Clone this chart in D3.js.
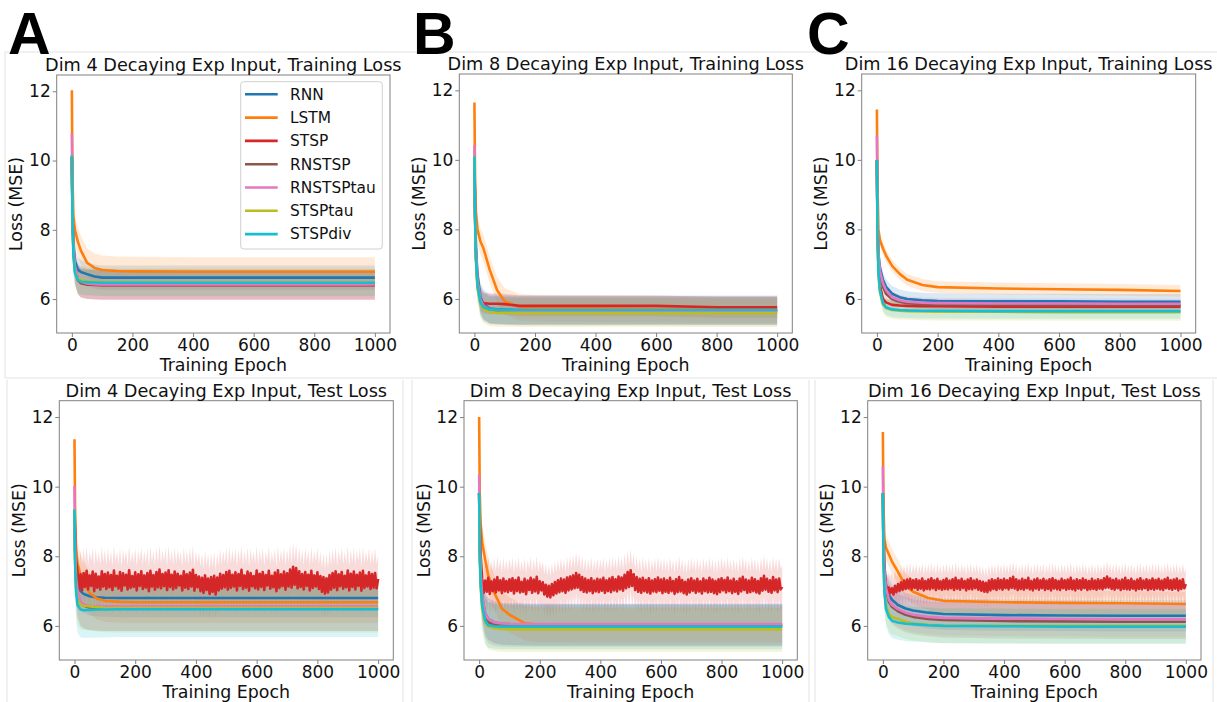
<!DOCTYPE html>
<html><head><meta charset="utf-8">
<script src="https://cdn.jsdelivr.net/npm/d3@7"></script>
<style>
body{margin:0;background:#fff;}
svg{display:block;}
text{font-family:"DejaVu Sans",sans-serif;fill:#111;}
</style></head><body>
<script>
// ---------------- DATA ----------------
const seriesNames = ["RNN","LSTM","STSP","RNSTSP","RNSTSPtau","STSPtau","STSPdiv"];
const seriesColors = ["#1f77b4","#ff7f0e","#d62728","#8c564b","#e377c2","#bcbd22","#17becf"];
const epochs = [0,2,5,10,20,30,50,75,100,150,200,400,600,800,1000];
const xTickValues = [0,200,400,600,800,1000];
const yTickValues = [6,8,10,12];

// Dim 4, training loss (mean per series, order = seriesNames)
const dim4Train = [
  [10.1,8.7,7.7,7.1,6.85,6.78,6.72,6.65,6.62,6.62,6.62,6.62,6.62,6.62,6.62],
  [12.03,9.6,8.4,8.0,7.65,7.4,7.05,6.9,6.84,6.81,6.80,6.79,6.79,6.79,6.79],
  [10.1,8.5,7.5,6.9,6.55,6.46,6.42,6.41,6.40,6.40,6.40,6.40,6.40,6.40,6.40],
  [10.1,8.5,7.5,6.9,6.56,6.47,6.43,6.42,6.41,6.41,6.41,6.41,6.41,6.41,6.41],
  [10.78,8.7,7.6,6.95,6.6,6.5,6.45,6.43,6.42,6.42,6.42,6.42,6.42,6.42,6.42],
  [10.1,8.4,7.3,6.8,6.58,6.55,6.52,6.50,6.49,6.48,6.48,6.48,6.48,6.48,6.48],
  [10.15,8.4,7.3,6.75,6.55,6.5,6.49,6.48,6.47,6.47,6.47,6.47,6.47,6.47,6.47]
];
const dim4TrainSd = [0.35,0.42,0.42,0.42,0.44,0.40,0.38];

// Dim 8, training loss
const dim8Train = [
  [10.1,8.6,7.5,6.7,6.05,5.85,5.72,5.70,5.69,5.68,5.68,5.68,5.68,5.68,5.68],
  [11.65,9.5,8.5,8.0,7.65,7.45,6.85,6.25,5.93,5.76,5.73,5.72,5.71,5.70,5.70],
  [10.1,8.4,7.2,6.4,5.95,5.88,5.86,5.86,5.85,5.80,5.80,5.80,5.80,5.76,5.76],
  [10.1,8.5,7.3,6.5,5.95,5.8,5.68,5.66,5.65,5.64,5.64,5.64,5.64,5.64,5.64],
  [10.42,8.6,7.4,6.55,5.98,5.8,5.70,5.68,5.67,5.66,5.66,5.66,5.66,5.66,5.66],
  [10.1,8.3,7.1,6.3,5.85,5.7,5.62,5.60,5.60,5.59,5.59,5.59,5.59,5.59,5.59],
  [10.1,8.4,7.2,6.4,5.9,5.76,5.70,5.69,5.68,5.68,5.68,5.68,5.68,5.68,5.68]
];
const dim8TrainSd = [0.42,0.38,0.30,0.40,0.40,0.40,0.40];

// Dim 16, training loss
const dim16Train = [
  [10.0,8.3,7.3,6.9,6.55,6.35,6.15,6.05,6.0,5.96,5.94,5.93,5.93,5.92,5.92],
  [11.45,9.3,8.0,7.7,7.45,7.25,6.95,6.72,6.55,6.4,6.34,6.30,6.28,6.26,6.23],
  [10.0,8.1,6.9,6.4,6.0,5.9,5.83,5.81,5.80,5.79,5.79,5.78,5.78,5.78,5.78],
  [10.0,8.2,7.1,6.7,6.35,6.15,6.0,5.92,5.88,5.85,5.84,5.83,5.82,5.82,5.82],
  [10.7,8.4,7.3,6.8,6.45,6.25,6.05,5.96,5.92,5.89,5.88,5.87,5.87,5.86,5.86],
  [10.0,7.9,6.7,6.2,5.85,5.74,5.68,5.66,5.65,5.64,5.63,5.63,5.62,5.62,5.62],
  [10.0,8.0,6.8,6.25,5.88,5.76,5.70,5.68,5.67,5.66,5.66,5.65,5.65,5.65,5.65]
];
const dim16TrainSd = [0.22,0.17,0.12,0.15,0.15,0.25,0.22];

// Dim 4, test loss (STSP given separately below)
const dim4Test = [
  [9.3,8.2,7.6,7.25,7.0,6.92,6.85,6.82,6.81,6.80,6.80,6.80,6.80,6.80,6.80],
  [11.36,9.3,8.2,7.8,7.45,7.25,6.95,6.78,6.72,6.69,6.68,6.68,6.68,6.68,6.68],
  null,
  [9.34,8.0,7.3,6.9,6.65,6.58,6.53,6.51,6.50,6.50,6.50,6.50,6.50,6.50,6.50],
  [10.01,8.3,7.4,7.0,6.7,6.62,6.58,6.57,6.56,6.56,6.56,6.56,6.56,6.56,6.56],
  [9.34,7.9,7.1,6.75,6.6,6.58,6.56,6.54,6.52,6.51,6.51,6.51,6.51,6.51,6.51],
  [9.34,7.8,7.0,6.6,6.47,6.45,6.46,6.47,6.47,6.48,6.48,6.48,6.48,6.48,6.48]
];
const dim4TestSd = [0.55,0.60,0.70,0.65,0.70,0.70,0.80];

// Dim 8, test loss
const dim8Test = [
  [9.82,8.3,7.4,6.8,6.35,6.2,6.1,6.06,6.05,6.04,6.03,6.03,6.03,6.03,6.03],
  [12.0,9.8,8.9,8.4,7.9,7.45,6.95,6.5,6.32,6.08,6.03,6.02,6.02,6.02,6.02],
  null,
  [9.82,8.2,7.3,6.7,6.25,6.1,6.03,6.01,6.0,6.0,6.0,6.0,6.0,6.0,6.0],
  [10.35,8.5,7.5,6.85,6.35,6.2,6.1,6.07,6.06,6.05,6.05,6.05,6.05,6.05,6.05],
  [9.82,8.0,7.1,6.5,6.1,5.98,5.93,5.91,5.90,5.90,5.90,5.90,5.90,5.90,5.90],
  [9.82,8.1,7.2,6.6,6.15,6.02,5.99,5.98,5.98,5.98,5.98,5.98,5.98,5.98,5.98]
];
const dim8TestSd = [0.60,0.50,0.60,0.60,0.60,0.65,0.65];

// Dim 16, test loss
const dim16Test = [
  [9.82,8.3,7.6,7.2,6.9,6.75,6.6,6.5,6.44,6.38,6.34,6.31,6.30,6.29,6.29],
  [11.57,9.5,8.5,8.25,8.05,7.85,7.55,7.15,6.98,6.8,6.72,6.68,6.66,6.65,6.63],
  null,
  [9.82,8.2,7.4,7.0,6.7,6.55,6.42,6.32,6.26,6.2,6.17,6.14,6.13,6.12,6.12],
  [10.59,8.6,7.6,7.1,6.75,6.6,6.48,6.38,6.32,6.26,6.23,6.21,6.20,6.19,6.19],
  [9.82,7.9,7.0,6.6,6.35,6.25,6.2,6.12,6.07,6.03,6.01,6.0,6.0,6.0,6.0],
  [9.82,7.9,7.0,6.5,6.25,6.15,6.1,6.06,6.05,6.02,6.0,5.99,5.98,5.98,5.98]
];
const dim16TestSd = [0.45,0.35,0.45,0.50,0.50,0.50,0.50];

// STSP test loss: epochs 0 and 5, then every 5 epochs from 10 to 1000
const stspTestHeadEpochs = [0,5];
const dim4TestStspHead = [9.34,7.9];
const dim8TestStspHead = [9.82,8.0];
const dim16TestStspHead = [9.82,7.8];
const dim4TestStsp = [
7.55,7.08,7.48,7.02,7.52,7.12,7.58,7.05,7.45,7.15,7.56,7.00,7.50,7.10,7.42,7.04,7.57,7.13,7.49,7.06,
7.53,7.11,7.46,7.03,7.59,7.14,7.44,7.07,7.55,7.01,7.51,7.16,7.47,7.05,7.60,7.09,7.43,7.12,7.54,7.02,
7.48,7.15,7.57,7.06,7.45,7.10,7.52,7.00,7.58,7.13,7.46,7.04,7.55,7.11,7.62,7.08,7.49,7.14,7.53,7.03,
7.60,7.12,7.47,7.05,7.56,7.09,7.50,7.16,7.44,7.02,7.57,7.10,7.48,7.06,7.53,7.13,7.61,7.01,7.46,7.11,
7.42,7.00,7.38,6.95,7.45,7.03,7.36,6.92,7.40,6.98,7.44,6.90,7.39,7.02,7.50,7.07,7.46,7.11,7.55,7.04,
7.58,7.09,7.47,7.13,7.54,7.02,7.49,7.15,7.61,7.06,7.45,7.10,7.56,7.01,7.52,7.14,7.43,7.08,7.59,7.05,
7.50,7.12,7.55,7.03,7.46,7.16,7.58,7.07,7.44,7.11,7.53,7.00,7.60,7.09,7.48,7.14,7.56,7.04,7.51,7.13,
7.62,7.10,7.70,7.18,7.66,7.08,7.57,7.12,7.49,7.05,7.55,7.15,7.47,7.02,7.58,7.09,7.45,7.13,7.54,7.06,
7.43,6.98,7.40,6.93,7.37,6.96,7.46,7.04,7.52,7.10,7.57,7.03,7.48,7.14,7.55,7.07,7.44,7.11,7.59,7.02,
7.50,7.12,7.56,7.05,7.47,7.15,7.53,7.01,7.58,7.09,7.45,7.13,7.54,7.06,7.49,7.10,7.52,7.08,7.35
];
const dim8TestStsp = [
7.35,6.95,7.30,6.98,7.38,6.92,7.28,7.00,7.33,6.96,7.40,7.02,7.31,6.94,7.36,6.99,7.29,6.97,7.34,7.01,
7.37,6.93,7.32,7.00,7.39,6.96,7.27,6.98,7.35,6.91,7.30,7.03,7.38,6.95,7.33,6.99,7.41,6.94,7.28,7.02,
7.25,6.90,7.18,6.84,7.15,6.82,7.20,6.88,7.26,6.93,7.31,6.97,7.36,7.00,7.33,6.95,7.39,7.02,7.42,7.05,
7.45,7.08,7.52,7.10,7.47,7.03,7.40,6.98,7.36,6.96,7.32,7.00,7.37,6.94,7.30,6.99,7.35,6.97,7.33,7.01,
7.38,6.95,7.31,7.00,7.36,6.97,7.40,7.02,7.34,6.99,7.42,7.05,7.39,7.01,7.47,7.08,7.55,7.12,7.60,7.15,
7.48,7.03,7.40,6.98,7.35,6.95,7.38,7.00,7.32,6.96,7.37,6.93,7.30,6.99,7.34,6.97,7.39,7.01,7.33,6.94,
7.36,6.98,7.31,6.95,7.38,7.00,7.29,6.92,7.34,6.97,7.40,6.99,7.32,6.94,7.27,6.90,7.33,6.96,7.37,7.01,
7.30,6.95,7.35,6.99,7.28,6.93,7.36,7.00,7.31,6.96,7.38,6.98,7.33,6.94,7.29,6.91,7.34,6.97,7.37,7.02,
7.32,6.96,7.39,7.00,7.30,6.94,7.35,6.98,7.28,6.92,7.36,6.99,7.41,7.03,7.33,6.95,7.30,6.97,7.38,7.00,
7.34,6.96,7.29,6.93,7.37,7.01,7.44,7.04,7.35,6.98,7.31,6.95,7.40,7.02,7.33,6.97,7.36,7.05,7.12
];
const dim16TestStsp = [
7.05,6.92,7.10,6.95,7.08,6.90,7.15,6.97,7.20,7.00,7.25,7.03,7.30,7.06,7.33,7.08,7.35,7.05,7.31,7.09,
7.34,7.04,7.30,7.07,7.36,7.02,7.29,7.06,7.33,7.05,7.37,7.08,7.31,7.03,7.35,7.07,7.28,7.04,7.32,7.06,
7.36,7.05,7.30,7.08,7.34,7.03,7.38,7.07,7.31,7.04,7.35,7.09,7.29,7.02,7.33,7.06,7.37,7.05,7.30,7.08,
7.33,7.04,7.29,7.01,7.27,6.98,7.24,6.97,7.30,7.02,7.34,7.06,7.31,7.03,7.36,7.07,7.32,7.04,7.35,7.08,
7.31,7.05,7.37,7.09,7.41,7.07,7.34,7.03,7.30,7.06,7.35,7.04,7.32,7.08,7.38,7.05,7.29,7.02,7.33,7.07,
7.36,7.04,7.31,7.08,7.35,7.03,7.30,7.06,7.34,7.02,7.37,7.07,7.32,7.05,7.29,7.03,7.35,7.08,7.31,7.04,
7.33,7.06,7.38,7.05,7.30,7.02,7.34,7.07,7.31,7.04,7.36,7.08,7.32,7.03,7.29,7.05,7.35,7.06,7.30,7.04,
7.34,7.07,7.31,7.05,7.37,7.09,7.42,7.10,7.36,7.06,7.32,7.04,7.35,7.08,7.30,7.03,7.33,7.06,7.38,7.05,
7.31,7.04,7.35,7.07,7.29,7.02,7.33,7.06,7.37,7.05,7.30,7.08,7.34,7.03,7.31,7.06,7.36,7.04,7.32,7.07,
7.35,7.05,7.30,7.03,7.34,7.08,7.38,7.06,7.31,7.04,7.33,7.07,7.36,7.02,7.30,7.06,7.34,7.08,7.20
];

// ---------------- LAYOUT ----------------
const W = 1217, H = 702;
const panels = [
  {title:"Dim 4 Decaying Exp Input, Training Loss", box:[56.7,390,75,333], mean:dim4Train, sd:dim4TrainSd, legend:true},
  {title:"Dim 8 Decaying Exp Input, Training Loss", box:[459.3,792.3,74,333], mean:dim8Train, sd:dim8TrainSd},
  {title:"Dim 16 Decaying Exp Input, Training Loss", box:[861.7,1195.7,74,333], mean:dim16Train, sd:dim16TrainSd},
  {title:"Dim 4 Decaying Exp Input, Test Loss", box:[59.3,393.3,400.7,660], mean:dim4Test, sd:dim4TestSd, noisyHead:dim4TestStspHead, noisy:dim4TestStsp},
  {title:"Dim 8 Decaying Exp Input, Test Loss", box:[464,797.3,400.7,660], mean:dim8Test, sd:dim8TestSd, noisyHead:dim8TestStspHead, noisy:dim8TestStsp},
  {title:"Dim 16 Decaying Exp Input, Test Loss", box:[867.7,1201,400.7,660], mean:dim16Test, sd:dim16TestSd, noisyHead:dim16TestStspHead, noisy:dim16TestStsp}
];
const panelLetters = [{t:"A",x:8,y:53.5},{t:"B",x:413,y:53.5},{t:"C",x:807,y:53.5}];

const svg = d3.select("body").append("svg").attr("width",W).attr("height",H);
svg.append("rect").attr("width",W).attr("height",H).attr("fill","#fff");

// faint sub-figure borders
const frame = svg.append("g").attr("stroke","#e2e2e2").attr("stroke-width",1).attr("fill","none");
[[5,52,1217,52],[5,52,5,378],[5,378,1217,378],
 [7,380,7,702],[403,380,403,702],[412,380,412,702],[809,380,809,702],[815,380,815,702],[1213,380,1213,702]]
 .forEach(l=>frame.append("line").attr("x1",l[0]).attr("y1",l[1]).attr("x2",l[2]).attr("y2",l[3]));

// letters
panelLetters.forEach(L=>svg.append("text").attr("x",L.x).attr("y",L.y).text(L.t)
  .style("font-family","'Liberation Sans',Arial,sans-serif").style("font-weight","bold")
  .style("font-size","59px").style("fill","#000"));

const bandOpacity = 0.16;

panels.forEach((p,pi)=>{
  const [l,r,t,b] = p.box;
  const x = d3.scaleLinear().domain([-50,1050]).range([l,r]);
  const y = d3.scaleLinear().domain([5.02,12.47]).range([b,t]);
  const g = svg.append("g");
  const clipId = "clip"+pi;
  g.append("clipPath").attr("id",clipId).append("rect").attr("x",l).attr("y",t).attr("width",r-l).attr("height",b-t);
  const plot = g.append("g").attr("clip-path",`url(#${clipId})`);

  const pts = p.mean.map((vals,i)=>{
    if (vals) return epochs.map((e,k)=>({e, v:vals[k]}));
    const head = stspTestHeadEpochs.map((e,k)=>({e, v:p.noisyHead[k]}));
    const tail = p.noisy.map((v,k)=>({e:10+5*k, v}));
    return head.concat(tail);
  });

  const area = sd => d3.area().x(d=>x(d.e)).y0(d=>y(d.v-sd)).y1(d=>y(d.v+sd));
  const line = d3.line().x(d=>x(d.e)).y(d=>y(d.v));

  pts.forEach((ps,i)=>{
    plot.append("path").datum(ps).attr("d",area(p.sd[i]))
      .attr("fill",seriesColors[i]).attr("fill-opacity",bandOpacity).attr("stroke","none");
  });
  pts.forEach((ps,i)=>{
    plot.append("path").datum(ps).attr("d",line)
      .attr("fill","none").attr("stroke",seriesColors[i]).attr("stroke-width",2.6)
      .attr("stroke-linejoin","round");
  });

  g.append("rect").attr("x",l).attr("y",t).attr("width",r-l).attr("height",b-t)
    .attr("fill","none").attr("stroke","#808080").attr("stroke-width",1);

  const xa = g.append("g").attr("transform",`translate(0,${b})`)
    .call(d3.axisBottom(x).tickValues(xTickValues).tickSize(4).tickPadding(2).tickFormat(d3.format("d")));
  const ya = g.append("g").attr("transform",`translate(${l},0)`)
    .call(d3.axisLeft(y).tickValues(yTickValues).tickSize(4).tickPadding(2).tickFormat(d3.format("d")));
  [xa,ya].forEach(a=>{
    a.select(".domain").remove();
    a.selectAll("line").attr("stroke","#808080");
    a.selectAll("text").style("font-family","'DejaVu Sans',sans-serif").style("font-size","17px").attr("fill","#111");
  });

  g.append("text").attr("x",(l+r)/2).attr("y",t-4).attr("text-anchor","middle")
    .style("font-size","17.7px").text(p.title);
  g.append("text").attr("x",(l+r)/2).attr("y",b+38).attr("text-anchor","middle")
    .style("font-size","17.4px").text("Training Epoch");
  g.append("text").attr("transform",`translate(${l-34.5},${(t+b)/2}) rotate(-90)`).attr("text-anchor","middle")
    .style("font-size","17.4px").text("Loss (MSE)");

  if (p.legend) {
    const lg = g.append("g");
    lg.append("rect").attr("x",240.7).attr("y",81.7).attr("width",141.6).attr("height",167.3).attr("rx",3)
      .attr("fill","#fff").attr("fill-opacity",0.8).attr("stroke","#d0d0d0");
    seriesNames.forEach((n,i)=>{
      const yy = 94.3 + i*23.3;
      lg.append("line").attr("x1",245).attr("x2",277.7).attr("y1",yy).attr("y2",yy)
        .attr("stroke",seriesColors[i]).attr("stroke-width",2.6);
      lg.append("text").attr("x",290).attr("y",yy).attr("dy","0.35em").style("font-size","15.4px").text(n);
    });
  }
});
</script>
</body></html>
